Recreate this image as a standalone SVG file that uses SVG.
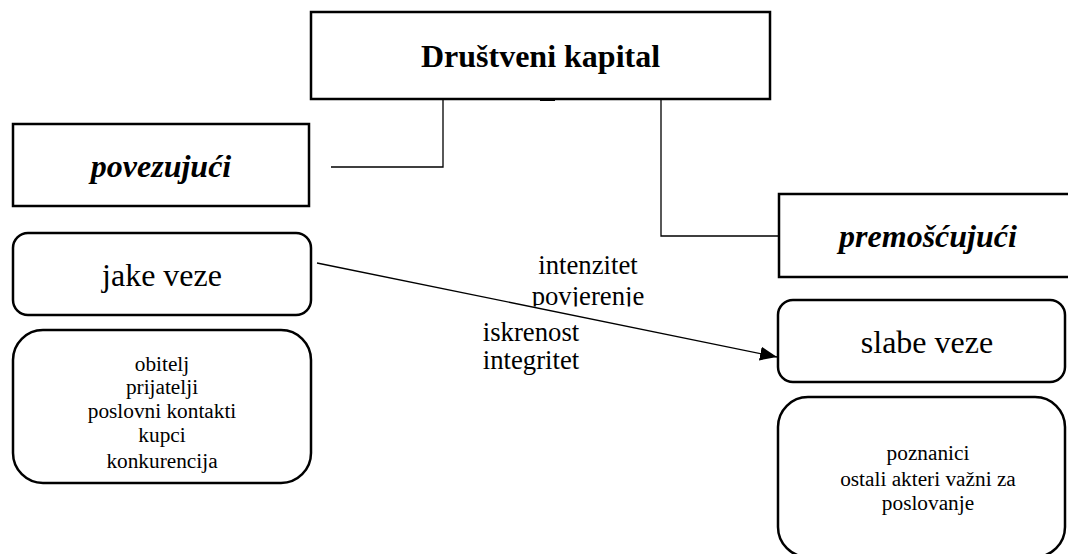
<svg xmlns="http://www.w3.org/2000/svg" width="1068" height="554" viewBox="0 0 1068 554">
<style>
.box{fill:#fff;stroke:#000;stroke-width:2.5}
.con{fill:none;stroke:#000;stroke-width:1.3}
.t{font-family:"Liberation Serif","Times New Roman",serif;fill:#000;text-anchor:middle}
.big{font-size:32px}
.bi{font-size:32px;font-weight:bold;font-style:italic}
.mid{font-size:26.7px}
.sm{font-size:21.3px}
</style>
<defs>
<marker id="arr" markerWidth="18" markerHeight="14" refX="17" refY="7" orient="auto" markerUnits="userSpaceOnUse">
<path d="M0,0 L17,7 L0,14 Z" fill="#000"/>
</marker>
<clipPath id="clipPov"><rect x="500" y="270" width="200" height="36.5"/></clipPath>
</defs>
<rect width="1068" height="554" fill="#fff"/>
<g id="connectors">
<path class="con" d="M331,167 H443 V99 H661 V236 H779"/>
<line x1="540" y1="99" x2="555" y2="99" stroke="#000" stroke-width="4"/>
<line class="con" x1="317" y1="263" x2="777" y2="357" marker-end="url(#arr)"/>
<text class="t mid" x="588" y="274">intenzitet</text>
<text class="t mid" x="588" y="305" clip-path="url(#clipPov)">povjerenje</text>
<text class="t mid" x="531" y="341">iskrenost</text>
<text class="t mid" x="531" y="369">integritet</text>
</g>
<g id="drustveni-kapital">
<rect class="box" x="311" y="12" width="459" height="87"/>
<text class="t big" font-weight="bold" x="540.5" y="67">Društveni kapital</text>
</g>
<g id="povezujuci">
<rect class="box" x="13" y="124" width="296" height="82"/>
<text class="t bi" x="161" y="177">povezujući</text>
</g>
<g id="jake-veze">
<rect class="box" x="13" y="233" width="298" height="82" rx="15"/>
<text class="t big" x="162" y="286">jake veze</text>
</g>
<g id="jake-veze-lista">
<rect class="box" x="13" y="330" width="298" height="153" rx="30"/>
<text class="t sm" x="162" y="371">obitelj</text>
<text class="t sm" x="162" y="394">prijatelji</text>
<text class="t sm" x="162" y="418">poslovni kontakti</text>
<text class="t sm" x="162" y="442">kupci</text>
<text class="t sm" x="162" y="468">konkurencija</text>
</g>
<g id="premoscujuci">
<rect class="box" x="779" y="194" width="300" height="83"/>
<text class="t bi" x="928" y="247">premošćujući</text>
</g>
<g id="slabe-veze">
<rect class="box" x="778" y="300" width="287" height="82" rx="15"/>
<text class="t big" x="927" y="353">slabe veze</text>
</g>
<g id="slabe-veze-lista">
<rect class="box" x="778" y="397" width="287" height="160" rx="30"/>
<text class="t sm" x="928" y="460">poznanici</text>
<text class="t sm" x="928" y="486">ostali akteri važni za</text>
<text class="t sm" x="928" y="510">poslovanje</text>
</g>
</svg>
